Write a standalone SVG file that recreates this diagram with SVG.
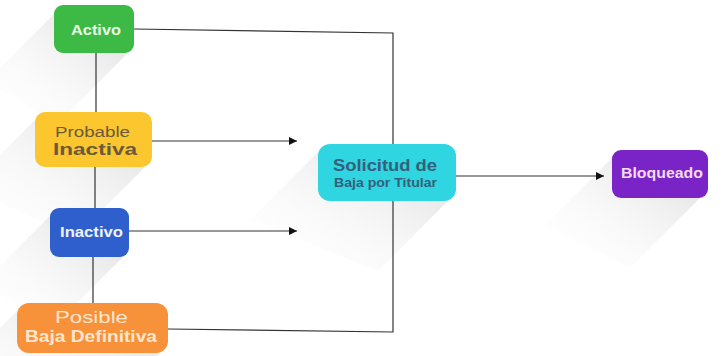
<svg xmlns="http://www.w3.org/2000/svg" width="724" height="356" viewBox="0 0 724 356">
<defs>
<linearGradient id="sh2" x1="1" y1="0" x2="0" y2="1">
<stop offset="0" stop-color="#c4c4c4" stop-opacity="0.6"/>
<stop offset="0.5" stop-color="#e2e2e2" stop-opacity="0.3"/>
<stop offset="1" stop-color="#ffffff" stop-opacity="0"/>
</linearGradient>
<marker id="arr" viewBox="0 0 10 10" refX="10" refY="5" markerWidth="8" markerHeight="8" markerUnits="userSpaceOnUse" orient="auto">
<path d="M0,0 L10,5 L0,10 z" fill="#111"/>
</marker>
</defs>
<style>
.c{fill:none;stroke:#333;stroke-width:1.2}
.sh{fill:url(#sh2)}
text{font-family:"Liberation Sans",Arial,sans-serif;text-anchor:middle}
.b{font-weight:bold}
</style>
<rect width="724" height="356" fill="#fff"/>
<g id="shadows">
<polygon class="sh" points="56,12 128,53 58,123 -14,82"/>
<polygon class="sh" points="37,118 145,167 75,237 -33,188"/>
<polygon class="sh" points="52,214 123,257 53,327 -18,284"/>
<polygon class="sh" points="19,309 160,353 100,413 -41,369"/>
<polygon class="sh" points="320,150 448,201 378,271 250,220"/>
<polygon class="sh" points="614,156 700,198 630,268 544,226"/>
</g>
<g id="connectors">
<path class="c" d="M134,29 L393,33 L393,332 L168,329"/>
<path class="c" d="M96,53 L96,112"/>
<path class="c" d="M95,167 L95,208"/>
<path class="c" d="M93,257 L93,303"/>
<path class="c" d="M152,141 L297,141" marker-end="url(#arr)"/>
<path class="c" d="M129,231 L297,231" marker-end="url(#arr)"/>
<path class="c" d="M456,176 L604,176" marker-end="url(#arr)"/>
</g>
<g id="activo">
<rect x="54" y="5" width="80" height="48" rx="9" fill="#3cba45"/>
<text x="96" y="35" class="b" font-size="15" fill="#eaf8e4" textLength="50" lengthAdjust="spacingAndGlyphs">Activo</text>
</g>
<g id="probable-inactiva">
<rect x="35" y="112" width="117" height="55" rx="10" fill="#fcc62e"/>
<text x="92.5" y="137" font-size="14" fill="#6b5a3a" textLength="75" lengthAdjust="spacingAndGlyphs">Probable</text>
<text x="95" y="155" class="b" font-size="16" fill="#6b5a3a" textLength="84" lengthAdjust="spacingAndGlyphs">Inactiva</text>
</g>
<g id="inactivo">
<rect x="50" y="208" width="79" height="49" rx="9" fill="#2f5fcd"/>
<text x="91.5" y="237" class="b" font-size="15" fill="#eef2fb" textLength="63" lengthAdjust="spacingAndGlyphs">Inactivo</text>
</g>
<g id="posible-baja-definitiva">
<rect x="17" y="303" width="151" height="50" rx="12" fill="#f7923a"/>
<text x="91.5" y="322.5" font-size="17" fill="#fde6cf" textLength="73" lengthAdjust="spacingAndGlyphs">Posible</text>
<text x="91" y="342" class="b" font-size="17" fill="#fde6cf" textLength="132" lengthAdjust="spacingAndGlyphs">Baja Definitiva</text>
</g>
<g id="solicitud">
<rect x="318" y="144" width="138" height="57" rx="12" fill="#2fd5e0"/>
<text x="385" y="171" class="b" font-size="16" fill="#35607a" textLength="104" lengthAdjust="spacingAndGlyphs">Solicitud de</text>
<text x="385.5" y="187" class="b" font-size="12" fill="#35607a" textLength="103" lengthAdjust="spacingAndGlyphs">Baja por Titular</text>
</g>
<g id="bloqueado">
<rect x="612" y="150" width="96" height="48" rx="9" fill="#7a24c8"/>
<text x="662" y="178" class="b" font-size="15" fill="#f3dcf3" textLength="82" lengthAdjust="spacingAndGlyphs">Bloqueado</text>
</g>
</svg>
